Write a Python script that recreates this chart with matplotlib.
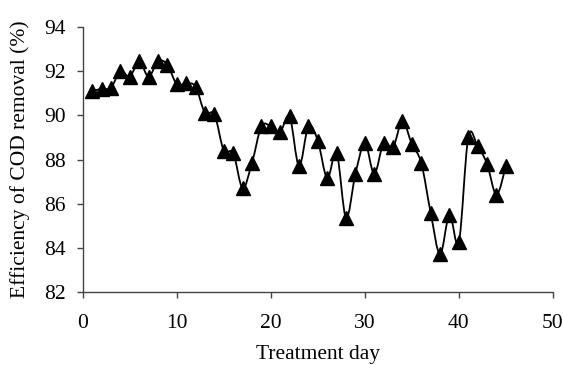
import matplotlib
matplotlib.use("Agg")
import matplotlib.pyplot as plt
from matplotlib.path import Path
from matplotlib.patches import PathPatch
import numpy as np

days = list(range(1, 46))
efficiency = [91.1, 91.2, 91.25, 92.0, 91.75, 92.45, 91.75, 92.45, 92.3, 91.4,
              91.45, 91.3, 90.1, 90.05, 88.4, 88.3, 86.7, 87.85, 89.5, 89.5,
              89.25, 89.95, 87.7, 89.5, 88.85, 87.15, 88.3, 85.35, 87.35, 88.75,
              87.35, 88.75, 88.55, 89.75, 88.7, 87.85, 85.6, 83.7, 85.5, 84.25,
              89.0, 88.6, 87.8, 86.4, 87.7]
x_ticks = [0, 10, 20, 30, 40, 50]
y_ticks = [82, 84, 86, 88, 90, 92, 94]
x_label = "Treatment day"
y_label = "Efficiency of COD removal (%)"

plt.rcParams['font.family'] = ['Liberation Serif', 'DejaVu Serif']

fig = plt.figure(figsize=(5.63, 3.65), dpi=100)
ax = fig.add_axes([0.147, 0.2, 0.835, 0.726])

# smoothed line (Excel-style cubic Bezier through the points)
x = np.array(days, dtype=float)
y = np.array(efficiency, dtype=float)
n = len(x)
verts = [(x[0], y[0])]
codes = [Path.MOVETO]
for i in range(n - 1):
    p0 = np.array([x[max(i - 1, 0)], y[max(i - 1, 0)]])
    p1 = np.array([x[i], y[i]])
    p2 = np.array([x[i + 1], y[i + 1]])
    p3 = np.array([x[min(i + 2, n - 1)], y[min(i + 2, n - 1)]])
    c1 = p1 + (p2 - p0) / 6.0
    c2 = p2 - (p3 - p1) / 6.0
    verts += [tuple(c1), tuple(c2), tuple(p2)]
    codes += [Path.CURVE4, Path.CURVE4, Path.CURVE4]
ax.add_patch(PathPatch(Path(verts, codes), facecolor='none', edgecolor='black', lw=1.3, zorder=2))
ax.plot(days, efficiency, linestyle='none', marker='^', markersize=9.5,
        color='black', zorder=3, clip_on=False)

ax.set_xlim(0, 50)
ax.set_ylim(82, 94)
ax.set_xticks(x_ticks)
ax.set_yticks(y_ticks)
for s in ['top', 'right']:
    ax.spines[s].set_visible(False)
for s in ['left', 'bottom']:
    ax.spines[s].set_color('#444444')
    ax.spines[s].set_linewidth(1.0)
ax.tick_params(axis='both', direction='out', length=4, width=1, color='#444444',
               labelsize=15.5, labelcolor='black')
ax.tick_params(axis='x', pad=12)
ax.tick_params(axis='y', pad=8)
ax.set_xlabel(x_label, fontsize=15.5)
ax.set_ylabel(y_label, fontsize=15.5)
ax.xaxis.set_label_coords(0.5, -0.2)
ax.yaxis.set_label_coords(-0.112, 0.5)

fig.savefig("out.png", dpi=100)
